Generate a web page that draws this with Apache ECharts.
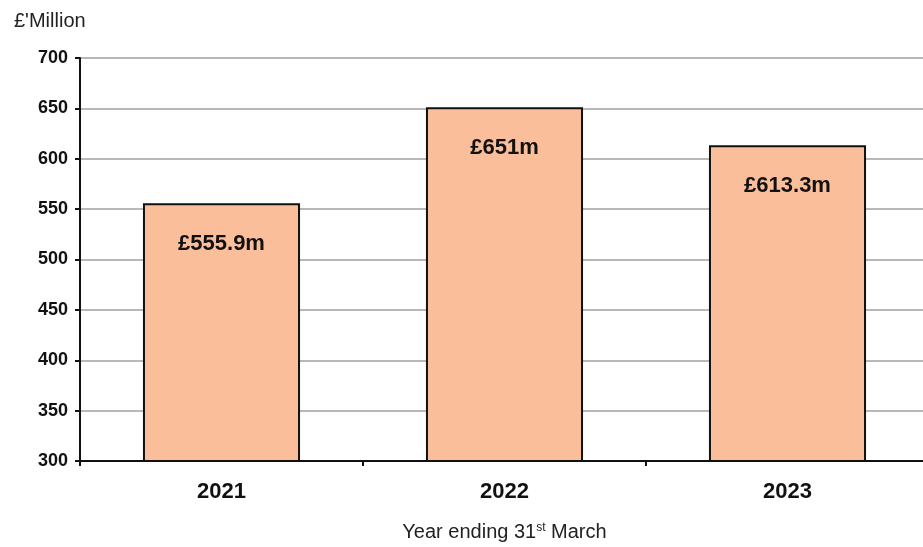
<!DOCTYPE html>
<html>
<head>
<meta charset="utf-8">
<script src="https://cdn.jsdelivr.net/npm/echarts@6/dist/echarts.min.js"></script>
<style>html,body{margin:0;padding:0;background:#fff;}#c{width:923px;height:547px;}</style>
</head>
<body>
<div id="c"></div>
<script>
var categories = ['2021', '2022', '2023'];
var values = [555.9, 651, 613.3];
var valueLabels = ['£555.9m', '£651m', '£613.3m'];
var yTicks = [300, 350, 400, 450, 500, 550, 600, 650, 700];

var chart = echarts.init(document.getElementById('c'));
chart.setOption({
  animation: false,
  backgroundColor: '#ffffff',
  title: {
    text: "£'Million",
    left: 9, top: 6,
    textStyle: {fontFamily: 'Liberation Sans, Arial', fontSize: 20, fontWeight: 'normal', color: '#222'}
  },
  grid: {left: 80, top: 58, width: 849, height: 403, containLabel: false, outerBoundsMode: 'none'},
  xAxis: {
    type: 'category',
    data: categories,
    axisLine: {lineStyle: {color: '#111', width: 2}},
    axisTick: {show: true, alignWithLabel: false, length: 5, inside: false, lineStyle: {color: '#111', width: 2}},
    axisLabel: {margin: 20, fontFamily: 'Liberation Sans, Arial', fontSize: 22, fontWeight: 'bold', color: '#111'},
    name: '{a|Year ending 31}{s|st}{a| March}',
    nameLocation: 'middle',
    nameGap: 61,
    nameTextStyle: {
      rich: {
        a: {fontFamily: 'Liberation Sans, Arial', fontSize: 20, color: '#222'},
        s: {fontFamily: 'Liberation Sans, Arial', fontSize: 12, color: '#222', verticalAlign: 'top', padding: [0,0,8,0]}
      }
    }
  },
  yAxis: {
    type: 'value',
    min: yTicks[0],
    max: yTicks[yTicks.length - 1],
    interval: 50,
    axisLine: {show: true, lineStyle: {color: '#111', width: 2}},
    axisTick: {show: true, length: 5, lineStyle: {color: '#111', width: 2}},
    axisLabel: {margin: 12, fontFamily: 'Liberation Sans, Arial', fontSize: 18, fontWeight: 'bold', color: '#111'},
    splitLine: {show: true, lineStyle: {color: '#a0a0a0', width: 1.5}}
  },
  series: [{
    type: 'bar',
    data: values,
    barWidth: '55.5%',
    itemStyle: {color: '#FBBE9B', borderColor: '#111', borderWidth: 2},
    label: {
      show: true,
      position: 'insideTop',
      distance: 30,
      formatter: function (p) { return valueLabels[p.dataIndex]; },
      fontFamily: 'Liberation Sans, Arial',
      fontSize: 22,
      fontWeight: 'bold',
      color: '#111'
    }
  }]
});
</script>
</body>
</html>
